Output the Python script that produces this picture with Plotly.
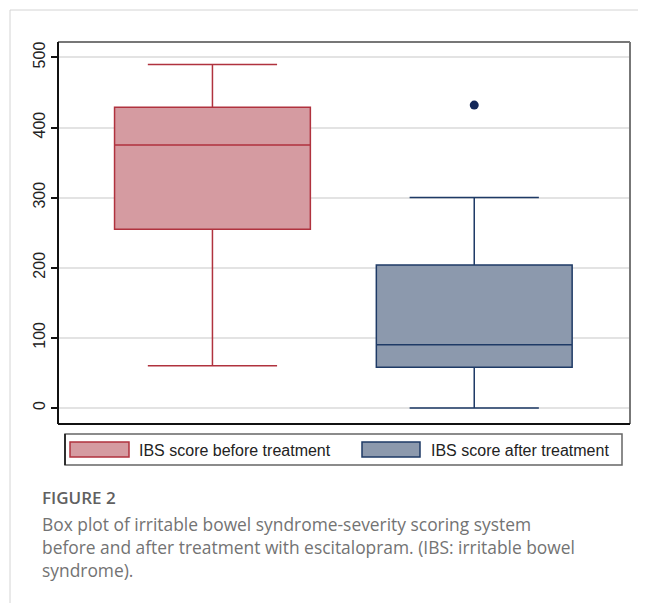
import plotly.graph_objects as go

# ---- data ----
groups = ["IBS score before treatment", "IBS score after treatment"]
positions = [0, 1]
q1 = [255, 58]
median = [375, 90]
q3 = [429, 204]
lower_whisker = [60, 0]
upper_whisker = [490, 300]
outlier_x = [1]
outlier_y = [432]
y_ticks = [0, 100, 200, 300, 400, 500]

fills = ["#D59BA1", "#8C99AD"]
lines = ["#B0323E", "#1E3A66"]

OFF = 8  # page body margin
W, H = 646 - OFF, 603 - OFF
L, R, T, B = 58 - OFF, 630 - OFF, 42 - OFF, 424 - OFF


def px(x):
    return (x - OFF - L) / (R - L)


def py(y):
    return (B - (y - OFF)) / (B - T)


fig = go.Figure()
for i in range(2):
    fig.add_trace(go.Box(
        x=[positions[i]], q1=[q1[i]], median=[median[i]], q3=[q3[i]],
        lowerfence=[lower_whisker[i]], upperfence=[upper_whisker[i]],
        name=groups[i], fillcolor=fills[i], line=dict(color=lines[i], width=1.5),
        width=0.748, whiskerwidth=0.66, boxpoints=False, showlegend=False,
        hoverinfo="y"))
fig.add_trace(go.Scatter(x=outlier_x, y=outlier_y, mode="markers",
                         marker=dict(color="#13285A", size=9), showlegend=False))

shapes = []
# plot frame
shapes.append(dict(type="line", xref="paper", yref="paper", x0=0, x1=1, y0=1, y1=1,
                   line=dict(color="#777777", width=2)))
shapes.append(dict(type="line", xref="paper", yref="paper", x0=1, x1=1, y0=0, y1=1,
                   line=dict(color="#777777", width=2)))
shapes.append(dict(type="line", xref="paper", yref="paper", x0=0, x1=1, y0=0, y1=0,
                   line=dict(color="#111111", width=2)))
shapes.append(dict(type="line", xref="paper", yref="paper", x0=0, x1=0, y0=0, y1=1,
                   line=dict(color="#111111", width=2)))
# legend box
shapes.append(dict(type="rect", xref="paper", yref="paper", x0=px(65), x1=px(622),
                   y0=py(465), y1=py(434), line=dict(color="#666666", width=1.5)))
shapes.append(dict(type="line", xref="paper", yref="paper", x0=px(65), x1=px(65),
                   y0=py(465), y1=py(434), line=dict(color="#111111", width=1.5)))
sw = [(70, 129), (362, 420)]
tx = [139, 431]
annotations = []
for i in range(2):
    shapes.append(dict(type="rect", xref="paper", yref="paper", x0=px(sw[i][0]), x1=px(sw[i][1]),
                       y0=py(457), y1=py(442), fillcolor=fills[i],
                       line=dict(color=lines[i], width=1.5)))
    annotations.append(dict(xref="paper", yref="paper", x=px(tx[i]) - 2 / (R - L), y=py(450),
                            text=groups[i], showarrow=False, xanchor="left", yanchor="middle",
                            font=dict(family="Liberation Sans, Arial", size=16, color="#222222")))
# card border
shapes.append(dict(type="line", xref="paper", yref="paper", x0=px(10), x1=px(10),
                   y0=py(603), y1=py(10), line=dict(color="#D4D4D4", width=1)))
shapes.append(dict(type="line", xref="paper", yref="paper", x0=px(10), x1=px(646),
                   y0=py(10), y1=py(10), line=dict(color="#D4D4D4", width=1)))

# caption
annotations.append(dict(xref="paper", yref="paper", x=px(40), y=py(497), text="FIGURE 2",
                        showarrow=False, xanchor="left", yanchor="middle",
                        font=dict(family="Open Sans", size=17, color="#606060", weight=600)))
caption = ["Box plot of irritable bowel syndrome-severity scoring system",
           "before and after treatment with escitalopram. (IBS: irritable bowel",
           "syndrome)."]
for k, line in enumerate(caption):
    annotations.append(dict(xref="paper", yref="paper", x=px(40), y=py(524 + 23 * k), text=line,
                            showarrow=False, xanchor="left", yanchor="middle",
                            font=dict(family="Open Sans", size=17.4, color="#737373")))

fig.update_layout(
    width=W, height=H, margin=dict(l=L, r=W - R, t=T, b=H - B),
    paper_bgcolor="white", plot_bgcolor="white",
    shapes=shapes, annotations=annotations, showlegend=False,
    xaxis=dict(range=[-0.59, 1.595], showticklabels=False, ticks="", showgrid=False,
               zeroline=False, showline=False),
    yaxis=dict(range=[-23, 522], tickvals=y_ticks, ticks="outside", ticklen=6,
               tickcolor="#111111", tickwidth=1.5, tickangle=-90,
               tickfont=dict(family="Liberation Sans, Arial", size=16, color="#222222"),
               showgrid=True, gridcolor="#E3E3E3", gridwidth=1.5, zeroline=False,
               showline=False),
)
fig.write_html("out.html")
